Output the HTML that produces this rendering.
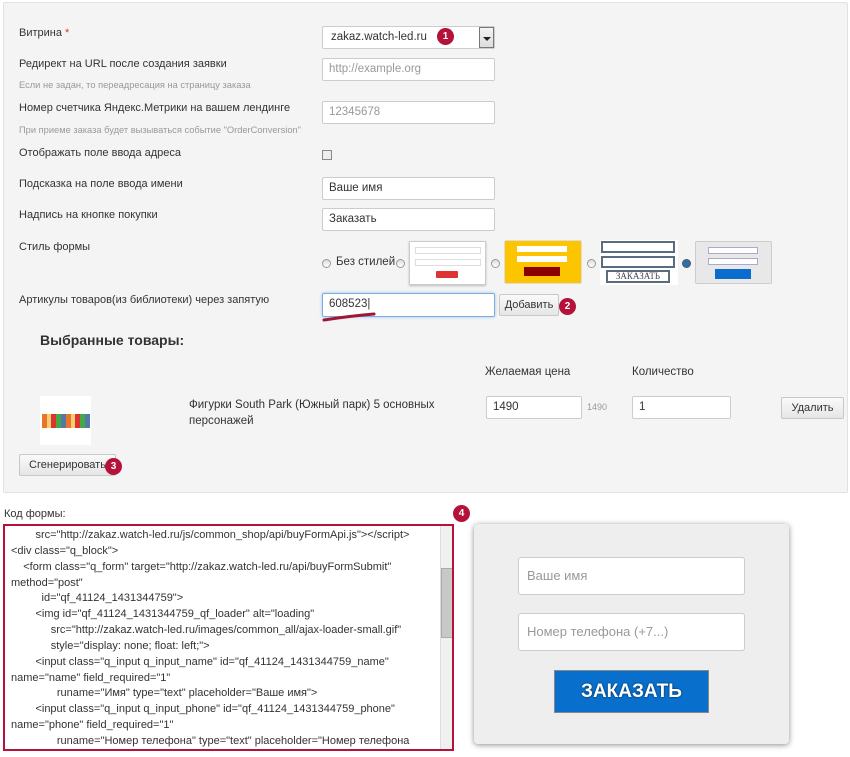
<!DOCTYPE html>
<html><head><meta charset="utf-8">
<style>
*{box-sizing:border-box;margin:0;padding:0}
body{width:850px;height:757px;background:#fff;font-family:"Liberation Sans",Arial,sans-serif;font-size:11px;color:#333;position:relative;overflow:hidden}
.a{position:absolute}
.panel{left:3px;top:2px;width:845px;height:491px;background:#f4f4f4;border:1px solid #e2e2e2;border-radius:2px}
.lbl{left:19px;font-size:11px;color:#333;white-space:nowrap}
.hint{left:19px;font-size:9.3px;color:#999;white-space:nowrap}
.inp{background:#fff;border:1px solid #ccc;border-radius:2px;height:23px;padding:0 6px;line-height:21px;font-size:11.5px;color:#333;white-space:nowrap}
.ph{color:#999}
.btn{background:linear-gradient(#fafafa,#e6e6e6);border:1px solid #c8c8c8;border-radius:2px;font-size:11px;color:#333;text-align:center;line-height:20px;height:22px;white-space:nowrap}
.badge{width:17px;height:17px;border-radius:50%;background:#b4123a;color:#fff;font-weight:bold;font-size:10px;text-align:center;line-height:17px}
.radio{width:9px;height:9px;border-radius:50%;border:1px solid #999;background:linear-gradient(#ddd,#fff)}
.code{font-size:11px;color:#333;white-space:nowrap;line-height:15.85px}
</style></head><body>
<div class="a panel"></div>

<div class="a lbl" style="top:27px">Витрина <span style="color:#d33">*</span></div>
<div class="a inp" style="left:322px;top:26px;width:173px;padding-left:8px">zakaz.watch-led.ru</div>
<div class="a" style="left:479px;top:27px;width:15px;height:21px;background:linear-gradient(#f4f4f4,#ddd);border:1px solid #777"></div>
<div class="a" style="left:483px;top:37px;width:0;height:0;border-left:4px solid transparent;border-right:4px solid transparent;border-top:4px solid #222"></div>
<div class="a badge" style="left:437px;top:28px">1</div>

<div class="a lbl" style="top:58px">Редирект на URL после создания заявки</div>
<div class="a hint" style="top:80px">Если не задан, то переадресация на страницу заказа</div>
<div class="a inp ph" style="left:322px;top:58px;width:173px">http://example.org</div>

<div class="a lbl" style="top:102px">Номер счетчика Яндекс.Метрики на вашем лендинге</div>
<div class="a hint" style="top:125px">При приеме заказа будет вызываться событие "OrderConversion"</div>
<div class="a inp ph" style="left:322px;top:101px;width:173px">12345678</div>

<div class="a lbl" style="top:147px">Отображать поле ввода адреса</div>
<div class="a" style="left:322px;top:150px;width:10px;height:10px;border:1px solid #888;background:#eee"></div>

<div class="a lbl" style="top:178px">Подсказка на поле ввода имени</div>
<div class="a inp" style="left:322px;top:177px;width:173px">Ваше имя</div>

<div class="a lbl" style="top:209px">Надпись на кнопке покупки</div>
<div class="a inp" style="left:322px;top:208px;width:173px">Заказать</div>

<div class="a lbl" style="top:241px">Стиль формы</div>
<div class="a radio" style="left:322px;top:259px"></div>
<div class="a" style="left:336px;top:256px;font-size:11.5px">Без стилей</div>
<div class="a radio" style="left:396px;top:259px"></div>
<div class="a" style="left:409px;top:241px;width:77px;height:44px;background:#fff;border:1px solid #ccc;box-shadow:0 1px 2px #bbb">
 <div class="a" style="left:5px;top:5px;width:66px;height:7px;border:1px solid #ddd"></div>
 <div class="a" style="left:5px;top:17px;width:66px;height:7px;border:1px solid #ddd"></div>
 <div class="a" style="left:26px;top:29px;width:22px;height:7px;background:#d33;border-radius:1px"></div>
</div>
<div class="a radio" style="left:491px;top:259px"></div>
<div class="a" style="left:504px;top:240px;width:78px;height:44px;background:#fcc500;border:1px solid #ddd;border-radius:2px">
 <div class="a" style="left:12px;top:5px;width:50px;height:6px;background:#fff"></div>
 <div class="a" style="left:12px;top:15px;width:50px;height:6px;background:#fff"></div>
 <div class="a" style="left:19px;top:26px;width:36px;height:9px;background:#8b0000"></div>
</div>
<div class="a radio" style="left:587px;top:259px"></div>
<div class="a" style="left:600px;top:240px;width:78px;height:45px;background:#fff">
 <div class="a" style="left:1px;top:1px;width:74px;height:12px;border:2px solid #5a6c7e"></div>
 <div class="a" style="left:1px;top:16px;width:74px;height:12px;border:2px solid #5a6c7e"></div>
 <div class="a" style="left:6px;top:30px;width:64px;height:13px;border:2px solid #5a6c7e;font-family:'Liberation Serif',serif;font-size:9px;line-height:9px;text-align:center;color:#445">ЗАКАЗАТЬ</div>
</div>
<div class="a radio" style="left:682px;top:259px;background:#2a6fb0;border-color:#555"></div>
<div class="a" style="left:695px;top:241px;width:77px;height:43px;background:#e8e8e8;border:1px solid #ccc;border-radius:2px">
 <div class="a" style="left:12px;top:5px;width:50px;height:7px;background:#fff;border:1px solid #aac"></div>
 <div class="a" style="left:12px;top:16px;width:50px;height:7px;background:#fff;border:1px solid #aac"></div>
 <div class="a" style="left:19px;top:27px;width:36px;height:10px;background:#0a6ccc"></div>
</div>

<div class="a lbl" style="top:294px">Артикулы товаров(из библиотеки) через запятую</div>
<div class="a inp" style="left:322px;top:293px;width:173px;height:24px;border-color:#7aaee0;box-shadow:0 0 3px #9cc4ee">608523|</div>
<svg class="a" style="left:320px;top:310px" width="60" height="14"><path d="M4 10 Q30 6 54 4" stroke="#a01735" stroke-width="3" fill="none" stroke-linecap="round"/></svg>
<div class="a btn" style="left:499px;top:294px;width:60px;line-height:21px">Добавить</div>
<div class="a badge" style="left:559px;top:298px">2</div>

<div class="a" style="left:40px;top:332px;font-size:14px;font-weight:bold;color:#333">Выбранные товары:</div>
<div class="a" style="left:485px;top:366px;font-size:11.5px">Желаемая цена</div>
<div class="a" style="left:632px;top:366px;font-size:11.5px">Количество</div>
<div class="a" style="left:40px;top:396px;width:51px;height:49px;background:#fff"></div>
<div class="a" style="left:42px;top:414px;width:48px;height:14px;background:repeating-linear-gradient(90deg,#e8752a 0 5px,#f0d070 5px 9px,#d33 9px 14px,#4a4 14px 19px,#57a 19px 24px)"></div>
<div class="a" style="left:189px;top:397px;font-size:11.5px;line-height:16px">Фигурки South Park (Южный парк) 5 основных<br>персонажей</div>
<div class="a inp" style="left:486px;top:396px;width:96px">1490</div>
<div class="a" style="left:587px;top:402px;font-size:9px;color:#999">1490</div>
<div class="a inp" style="left:632px;top:396px;width:99px">1</div>
<div class="a btn" style="left:781px;top:397px;width:63px">Удалить</div>

<div class="a btn" style="left:19px;top:454px;width:97px">Сгенерировать</div>
<div class="a badge" style="left:105px;top:458px">3</div>

<div class="a" style="left:4px;top:508px;font-size:11px">Код формы:</div>
<div class="a badge" style="left:453px;top:505px">4</div>
<div class="a" style="left:3px;top:524px;width:451px;height:227px;border:2px solid #b4123a;background:#fff;overflow:hidden">
 <div class="a" style="left:435px;top:0;width:14px;height:223px;background:#f0f0f0;border-left:1px solid #ddd"></div>
 <div class="a" style="left:436px;top:42px;width:12px;height:70px;background:#c8c8c8;border:1px solid #aaa"></div>
 <div class="a" style="left:6px;top:2px" >
  <div class="code">&nbsp;&nbsp;&nbsp;&nbsp;&nbsp;&nbsp;&nbsp;&nbsp;src="http://zakaz.watch-led.ru/js/common_shop/api/buyFormApi.js"&gt;&lt;/script&gt;</div>
  <div class="code">&lt;div class="q_block"&gt;</div>
  <div class="code">&nbsp;&nbsp;&nbsp;&nbsp;&lt;form class="q_form" target="http://zakaz.watch-led.ru/api/buyFormSubmit"</div>
  <div class="code">method="post"</div>
  <div class="code">&nbsp;&nbsp;&nbsp;&nbsp;&nbsp;&nbsp;&nbsp;&nbsp;&nbsp;&nbsp;id="qf_41124_1431344759"&gt;</div>
  <div class="code">&nbsp;&nbsp;&nbsp;&nbsp;&nbsp;&nbsp;&nbsp;&nbsp;&lt;img id="qf_41124_1431344759_qf_loader" alt="loading"</div>
  <div class="code">&nbsp;&nbsp;&nbsp;&nbsp;&nbsp;&nbsp;&nbsp;&nbsp;&nbsp;&nbsp;&nbsp;&nbsp;&nbsp;src="http://zakaz.watch-led.ru/images/common_all/ajax-loader-small.gif"</div>
  <div class="code">&nbsp;&nbsp;&nbsp;&nbsp;&nbsp;&nbsp;&nbsp;&nbsp;&nbsp;&nbsp;&nbsp;&nbsp;&nbsp;style="display: none; float: left;"&gt;</div>
  <div class="code">&nbsp;&nbsp;&nbsp;&nbsp;&nbsp;&nbsp;&nbsp;&nbsp;&lt;input class="q_input q_input_name" id="qf_41124_1431344759_name"</div>
  <div class="code">name="name" field_required="1"</div>
  <div class="code">&nbsp;&nbsp;&nbsp;&nbsp;&nbsp;&nbsp;&nbsp;&nbsp;&nbsp;&nbsp;&nbsp;&nbsp;&nbsp;&nbsp;&nbsp;runame="Имя" type="text" placeholder="Ваше имя"&gt;</div>
  <div class="code">&nbsp;&nbsp;&nbsp;&nbsp;&nbsp;&nbsp;&nbsp;&nbsp;&lt;input class="q_input q_input_phone" id="qf_41124_1431344759_phone"</div>
  <div class="code">name="phone" field_required="1"</div>
  <div class="code">&nbsp;&nbsp;&nbsp;&nbsp;&nbsp;&nbsp;&nbsp;&nbsp;&nbsp;&nbsp;&nbsp;&nbsp;&nbsp;&nbsp;&nbsp;runame="Номер телефона" type="text" placeholder="Номер телефона</div>
 </div>
</div>

<div class="a" style="left:474px;top:524px;width:315px;height:220px;background:#eee;border-radius:4px;box-shadow:0 1px 6px rgba(0,0,0,.45)"></div>
<div class="a" style="left:518px;top:557px;width:227px;height:38px;background:#fff;border:1px solid #ccc;border-radius:3px;padding-left:8px;line-height:36px;font-size:13px;color:#999">Ваше имя</div>
<div class="a" style="left:518px;top:613px;width:227px;height:38px;background:#fff;border:1px solid #ccc;border-radius:3px;padding-left:8px;line-height:36px;font-size:13px;color:#999">Номер телефона (+7...)</div>
<div class="a" style="left:554px;top:670px;width:155px;height:43px;background:#0870cc;border:1px solid #888;color:#fff;font-weight:bold;font-size:19px;text-align:center;line-height:41px;text-shadow:0 0 2px #024">ЗАКАЗАТЬ</div>
</body></html>
